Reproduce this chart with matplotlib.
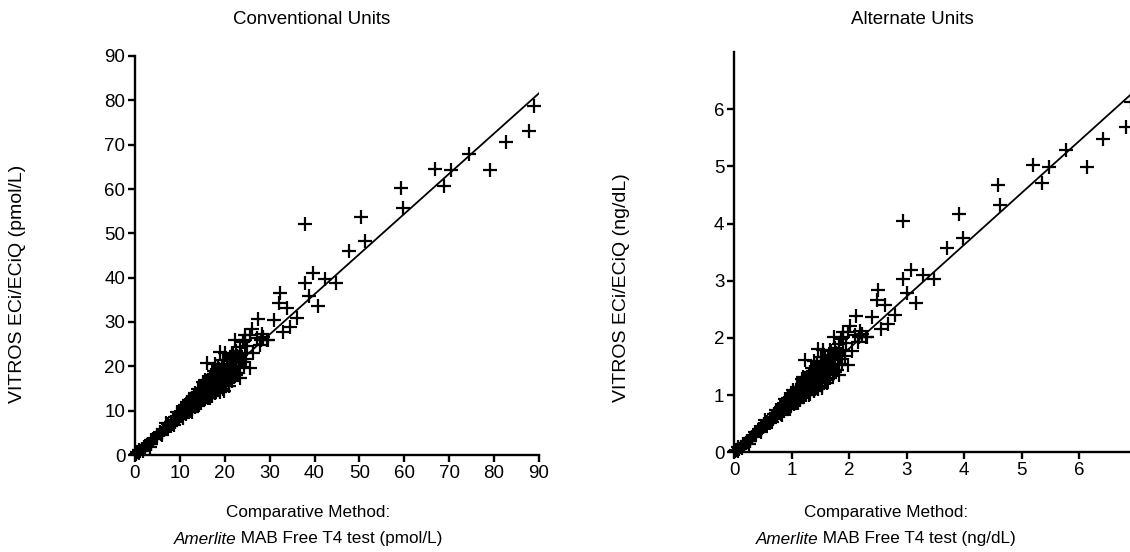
import matplotlib
matplotlib.use("Agg")
import matplotlib.pyplot as plt
import numpy as np

# ---- data (pmol/L) ----
comparative_pmol = [
    0.3, 0.5, 0.8, 1.0, 1.2, 1.5, 1.8, 2.0, 2.3, 2.6, 3.0, 3.3, 3.6, 3.5, 4.0, 4.4, 4.8, 5.0,
    5.5, 5.8, 6.2, 6.5, 6.8, 7.1, 7.4, 7.6, 8.0, 8.2, 8.5, 8.8, 9.0, 9.2, 9.5, 9.7, 9.9,
    10.1, 10.3, 10.5, 10.6, 10.8, 11.0, 11.1, 11.3, 11.5, 11.6, 11.8, 12.0, 12.1, 12.2, 12.4,
    12.5, 12.7, 12.8, 13.0, 13.1, 13.2, 13.4, 13.5, 13.6, 13.8, 13.9, 14.0, 14.1, 14.2, 14.4,
    14.5, 14.6, 14.8, 14.9, 15.0,
    15.1, 15.2, 15.3, 15.4, 15.5, 15.6, 15.7, 15.8, 15.9, 16.0, 16.1, 16.2, 16.3, 16.4, 16.5,
    16.6, 16.7, 16.8, 16.9, 17.0, 17.1, 17.2, 17.3, 17.4, 17.5, 17.6, 17.7, 17.8, 17.9, 18.0,
    18.1, 18.2, 18.3, 18.4, 18.5, 18.6, 18.7, 18.8, 18.9, 19.0, 19.1, 19.2, 19.3, 19.4, 19.5,
    19.6, 19.7, 19.8, 19.9, 20.0,
    20.2, 20.3, 20.5, 20.6, 20.8, 20.9, 21.0, 21.2, 21.3, 21.5, 21.6, 21.8, 22.0, 22.1, 22.3,
    22.5, 22.6, 22.8, 23.0, 23.2, 23.4, 23.6, 23.8, 24.0, 24.2, 24.5, 24.8, 25.0,
    28.6, 29.7, 27.1, 25.6, 27.8,
    14.0, 12.5, 17.5, 19.5, 21.5, 10.5, 8.0, 6.0, 15.5, 18.5, 22.5,
    6.0, 7.0, 8.6, 9.4, 10.8, 11.5, 12.6, 13.3, 14.3, 15.2, 16.2, 17.0, 18.0, 18.5, 19.5,
    20.4, 21.0, 21.8, 22.6, 23.5, 24.5, 20.0, 17.8,
    88.9, 87.8, 82.6, 74.3, 79.1, 66.9, 70.4, 68.9, 59.2, 59.6, 50.4, 51.2, 47.7, 37.9, 39.6,
    37.9, 42.4, 44.8, 38.7, 40.7, 32.3, 32.1, 33.8, 36.0, 34.5, 32.9, 30.9, 27.3, 26.0, 28.2,
    29.5, 28.0, 24.5, 26.3, 25.6, 23.4, 22.3, 18.9, 16.0, 19.8, 16.7, 3.6,
]
vitros_pmol = [
    0.2, 0.6, 0.4, 1.1, 0.8, 1.3, 1.0, 1.9, 1.6, 2.2, 2.5, 1.9, 2.5, 3.3, 3.5, 3.8, 4.6, 4.2,
    5.2, 4.8, 5.9, 5.6, 6.4, 6.0, 6.9, 6.5, 7.5, 7.0, 8.0, 7.4, 8.6, 7.9, 8.8, 8.2, 9.4,
    9.0, 9.8, 8.7, 10.3, 9.5, 10.0, 11.2, 9.2, 10.6, 11.6, 10.1, 11.0, 12.3, 9.9, 10.8,
    11.7, 12.8, 10.4, 11.5, 12.2, 13.4, 10.9, 12.0, 12.9, 11.3, 13.8, 12.5, 11.0, 13.2, 14.2,
    12.0, 13.0, 11.8, 14.6, 13.5,
    12.4, 14.0, 15.3, 13.0, 14.5, 16.0, 12.9, 15.0, 13.8, 16.6, 14.3, 15.5, 17.0, 13.5, 14.9,
    16.2, 17.6, 14.0, 15.6, 16.8, 13.2, 15.1, 17.4, 16.0, 14.5, 18.2, 15.8, 16.9, 13.9, 17.6,
    15.2, 16.4, 18.6, 14.6, 17.0, 15.8, 19.3, 16.5, 14.3, 17.8, 18.9, 15.5, 16.9, 20.1, 17.3,
    14.9, 18.4, 16.1, 19.6, 17.5,
    18.8, 16.2, 20.5, 17.8, 19.4, 15.6, 21.2, 18.3, 20.0, 16.8, 22.0, 19.0, 20.8, 17.5, 21.6,
    23.5, 19.8, 22.3, 18.6, 20.9, 24.3, 22.5, 21.0, 25.5, 19.8, 23.0, 21.7, 24.6,
    26.7, 25.9, 26.3, 27.0, 24.8,
    14.8, 10.2, 19.0, 21.5, 23.0, 9.0, 6.6, 5.0, 17.0, 20.0, 18.0,
    4.6, 7.2, 6.8, 9.6, 8.4, 12.0, 9.8, 14.0, 11.2, 16.4, 12.8, 18.0, 14.4, 19.8, 15.6,
    21.4, 16.5, 22.8, 18.0, 19.6, 26.0, 23.0, 20.6,
    78.8, 73.1, 70.5, 68.0, 64.3, 64.6, 64.2, 60.7, 60.2, 55.65, 53.7, 48.3, 46.0, 52.0, 41.0,
    38.9, 39.8, 38.9, 35.9, 33.5, 36.5, 34.2, 33.2, 31.0, 28.8, 27.7, 30.5, 30.6, 28.5, 27.4,
    25.9, 25.9, 27.1, 22.9, 19.6, 17.3, 25.9, 23.3, 20.7, 14.4, 12.8, 2.5,
]
fit_x_pmol = [0.0, 90.0]
fit_y_pmol = [0.0, 81.6]

PMOL_PER_NGDL = 12.87  # unit conversion used for the alternate-units panel

left_xticks = list(range(0, 91, 10))
left_yticks = list(range(0, 91, 10))
right_xticks = list(range(0, 7))
right_yticks = list(range(0, 7))

titles = ["Conventional Units", "Alternate Units"]
ylabels = ["VITROS ECi/ECiQ (pmol/L)", "VITROS ECi/ECiQ (ng/dL)"]
xlabel_line1 = "Comparative Method:"
xlabel_italic = "Amerlite"
xlabel_rest = [" MAB Free T4 test (pmol/L)", " MAB Free T4 test (ng/dL)"]

# ---- figure ----
W, H = 1130, 552
plt.rcParams['font.family'] = ['Liberation Sans', 'DejaVu Sans']
fig = plt.figure(figsize=(W / 100, H / 100), dpi=100)

def px_axes(x0, y_top, x1, y_bot):
    return [x0 / W, 1 - y_bot / H, (x1 - x0) / W, (y_bot - y_top) / H]

axL = fig.add_axes(px_axes(135, 56, 539, 455))
axR = fig.add_axes(px_axes(734, 52, 1136.5, 452.3))

cx = np.array(comparative_pmol)
cy = np.array(vitros_pmol)
fx = np.array(fit_x_pmol)
fy = np.array(fit_y_pmol)

panels = [
    (axL, cx, cy, fx, fy, (0, 90), (0, 90), left_xticks, left_yticks),
    (axR, cx / PMOL_PER_NGDL, cy / PMOL_PER_NGDL, fx / PMOL_PER_NGDL, fy / PMOL_PER_NGDL,
     (0, 7), (0, 7), right_xticks, right_yticks),
]

for ax, x, y, lx, ly, xl, yl, xt, yt in panels:
    ax.plot(lx, ly, color='black', lw=1.3, zorder=2)
    ax.plot(x, y, linestyle='none', marker='+', markersize=10, markeredgewidth=1.6,
            color='black', clip_on=False, zorder=3)
    ax.set_xlim(*xl)
    ax.set_ylim(*yl)
    ax.set_xticks(xt)
    ax.set_yticks(yt)
    for s in ['top', 'right']:
        ax.spines[s].set_visible(False)
    for s in ['left', 'bottom']:
        ax.spines[s].set_linewidth(1.7)
    ax.tick_params(direction='out', length=5, width=1.7, labelsize=13.5, pad=2)

# titles
title_family = ['Liberation Sans Narrow', 'Liberation Sans', 'DejaVu Sans']
fig.text(312 / W, 1 - 20 / H, titles[0], ha='center', va='center', fontsize=13.5,
         family=title_family)
fig.text(912 / W, 1 - 20 / H, titles[1], ha='center', va='center', fontsize=13.5,
         family=title_family)

# y labels
fig.text(18 / W, 1 - 284 / H, ylabels[0], rotation=90, ha='center', va='center', fontsize=14)
fig.text(622 / W, 1 - 288 / H, ylabels[1], rotation=90, ha='center', va='center', fontsize=14)

# x labels
fig.canvas.draw()
renderer = fig.canvas.get_renderer()
for xc, rest in [(308, xlabel_rest[0]), (886, xlabel_rest[1])]:
    fig.text(xc / W, 1 - 512 / H, xlabel_line1, ha='center', va='center', fontsize=12.3)
    t1 = fig.text(0, 1 - 539 / H, xlabel_italic, style='italic', ha='left', va='center', fontsize=12.3)
    t2 = fig.text(0, 1 - 539 / H, rest, ha='left', va='center', fontsize=12.3)
    w1 = t1.get_window_extent(renderer).width
    w2 = t2.get_window_extent(renderer).width
    x0 = xc - (w1 + w2) / 2
    t1.set_x(x0 / W)
    t2.set_x((x0 + w1) / W)

fig.savefig("out.png", dpi=100)
